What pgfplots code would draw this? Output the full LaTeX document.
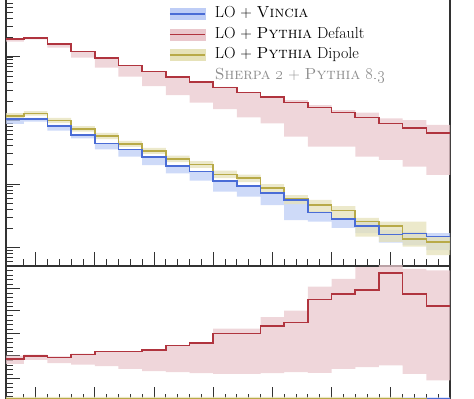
\documentclass[border=0pt]{standalone}
\usepackage{pgfplots}
\pgfplotsset{compat=1.18}
\usepackage{pgfplotstable}
\usepgfplotslibrary{fillbetween}

\definecolor{vinline}{RGB}{74,108,214}
\definecolor{vinband}{RGB}{190,205,246}
\definecolor{defline}{RGB}{176,52,62}
\definecolor{defband}{RGB}{234,200,205}
\definecolor{dipline}{RGB}{184,170,72}
\definecolor{dipband}{RGB}{230,226,185}
\definecolor{axiscol}{RGB}{50,50,50}
\definecolor{sherpagray}{RGB}{140,140,140}

% top panel: x = bin left edge, y = central value, lo/hi = band
\pgfplotstableread{
x y lo hi
20 1920 1741 1970
40 2013 1900 2050
60 1585 1401 1602
80 1212 975 1221
100 954 678 965
120 740 490 748
140 587 349 591
160 479 252 484
180 404 191 411
200 333 151.7 337
220 278 111.5 281
240 232 90.3 239
260 193.5 55.6 210
280 161.4 38.7 175.4
300 132.7 38.7 146.3
320 112.3 26.9 132.7
340 90.3 23.9 108.3
360 77.0 18.7 101.8
380 62.9 13.9 85.0
400 62.9 13.9 85.0
}\redtop

\pgfplotstableread{
x y lo hi
20 105.6 88.1 109.5
40 105.6 95.7 109.5
60 82.8 69.1 85.0
80 59.1 52.4 60.2
100 43.7 35.2 44.2
120 34.7 26.9 34.9
140 26.9 19.9 27.1
160 19.4 14.7 19.6
180 15.85 11.27 16.0
200 11.27 7.56 11.4
220 9.30 6.31 9.47
240 7.22 4.67 7.35
260 5.60 2.71 5.70
280 3.58 2.55 3.69
300 2.81 2.03 2.86
320 2.20 1.69 2.64
340 1.61 1.19 1.89
360 1.67 1.095 1.77
380 1.48 0.913 1.69
400 1.48 0.913 1.69
}\bluetop

\pgfplotstableread{
x y lo hi
20 119.0 109.5 131.2
40 128.0 119.8 141.1
60 99.3 91.3 109.5
80 73.5 67.1 81.9
100 57.0 51.1 63.6
120 42.7 38.3 47.6
140 33.1 29.7 36.9
160 24.8 22.2 28.1
180 20.4 17.9 23.0
200 14.2 12.4 16.3
220 12.4 10.75 14.1
240 8.56 7.22 10.0
260 5.81 4.84 6.71
280 4.67 3.62 5.60
300 3.80 2.92 4.50
320 2.55 1.48 2.92
340 2.20 1.23 2.55
360 1.36 1.03 2.55
380 1.23 0.762 1.46
400 1.23 0.762 1.46
}\yeltop

% ratio panel
\pgfplotstableread{
x y lo hi
20 0.938 0.827 1.011
40 0.996 0.916 1.033
60 0.967 0.840 0.990
80 1.033 0.811 1.050
100 1.100 0.773 1.110
120 1.100 0.716 1.110
140 1.129 0.662 1.140
160 1.233 0.640 1.240
180 1.284 0.618 1.290
200 1.500 0.604 1.611
220 1.500 0.604 1.611
240 1.671 0.618 1.862
260 1.744 0.640 2.011
280 2.256 0.627 2.544
300 2.382 0.716 2.716
320 2.471 0.751 2.973
340 2.849 0.789 3.100
360 2.382 0.604 2.938
380 2.107 0.456 2.900
400 2.107 0.456 2.900
}\redratio

\pgfplotstableread{
x y lo hi
20 0.03 -0.05 0.07
40 0.03 -0.05 0.07
60 0.03 -0.05 0.07
80 0.03 -0.05 0.07
100 0.03 -0.05 0.07
120 0.03 -0.05 0.07
140 0.03 -0.05 0.07
160 0.03 -0.05 0.07
180 0.03 -0.05 0.07
200 0.03 -0.05 0.07
220 0.03 -0.05 0.07
240 0.03 -0.05 0.07
260 0.03 -0.05 0.07
280 0.03 -0.05 0.07
300 0.03 -0.05 0.07
320 0.03 -0.05 0.07
340 0.03 -0.05 0.07
360 0.04 -0.05 0.08
380 0.04 -0.05 0.08
400 0.04 -0.05 0.08
}\blueratio

\pgfplotstableread{
x y lo hi
20 0.04 -0.05 0.09
40 0.04 -0.05 0.09
60 0.04 -0.05 0.09
80 0.04 -0.05 0.09
100 0.04 -0.05 0.09
120 0.04 -0.05 0.09
140 0.04 -0.05 0.09
160 0.04 -0.05 0.09
180 0.04 -0.05 0.09
200 0.04 -0.05 0.09
220 0.04 -0.05 0.09
240 0.04 -0.05 0.09
260 0.04 -0.05 0.09
280 0.04 -0.05 0.09
300 0.04 -0.05 0.09
320 0.04 -0.05 0.09
340 0.04 -0.05 0.09
360 0.04 -0.05 0.06
380 -0.05 -0.06 -0.04
400 -0.05 -0.06 -0.04
}\yelratio

\pgfplotsset{
  histpanel/.style={
    scale only axis,
    width=444pt,
    xmin=25, xmax=400,
    xtick={50,100,...,400},
    minor xtick={40,50,...,400},
    xticklabels={}, yticklabels={},
    xtick pos=left, ytick pos=left,
    tick align=inside,
    major tick length=14pt,
    minor tick length=7pt,
    axis line style={line width=1.2pt, axiscol},
    every tick/.style={line width=1pt, axiscol},
    every minor tick/.style={line width=0.9pt, axiscol},
  },
  band/.style={draw=none, fill=#1, fill opacity=0.75, forget plot},
  edge/.style={const plot, draw=none, forget plot},
  hline/.style={const plot, line width=1.6pt, color=#1, forget plot, mark=none},
}

\begin{document}
\begin{tikzpicture}
% ---------------- top panel ----------------
\begin{axis}[histpanel,
  at={(6pt,133pt)}, anchor=south west,
  height=296pt,
  ymode=log, ymin=0.5114, ymax=23450,
  legend cell align=left,
  legend style={draw=none, fill=none, inner sep=0pt,
    at={(0.3671,0.881)}, anchor=north west,
    font=\fontsize{16}{18}\selectfont,
    nodes={inner sep=1pt, text height=11pt, text depth=4pt},
    row sep=3.6pt,
    /tikz/every odd column/.append style={column sep=8pt}},
]
\addlegendimage{legend image code/.code={\fill[vinband] (0pt,-5.5pt) rectangle (35pt,5.5pt); \draw[vinline, line width=1.6pt] (0pt,0pt) -- (35pt,0pt);}}
\addlegendentry{LO + \textsc{Vincia}}
\addlegendimage{legend image code/.code={\fill[defband] (0pt,-5.5pt) rectangle (35pt,5.5pt); \draw[defline, line width=1.6pt] (0pt,0pt) -- (35pt,0pt);}}
\addlegendentry{LO + \textsc{Pythia} Default}
\addlegendimage{legend image code/.code={\fill[dipband] (0pt,-5.5pt) rectangle (35pt,5.5pt); \draw[dipline, line width=1.6pt] (0pt,0pt) -- (35pt,0pt);}}
\addlegendentry{LO + \textsc{Pythia} Dipole}
\addlegendimage{empty legend}
\addlegendentry{\textcolor{sherpagray}{\textsc{Sherpa} \oldstylenums{2} + \textsc{Pythia} \oldstylenums{8.3}}}

\addplot[edge, name path=rlo] table[x=x, y=lo] {\redtop};
\addplot[edge, name path=rhi] table[x=x, y=hi] {\redtop};
\addplot[band=defband] fill between[of=rlo and rhi];
\addplot[edge, name path=blo] table[x=x, y=lo] {\bluetop};
\addplot[edge, name path=bhi] table[x=x, y=hi] {\bluetop};
\addplot[band=vinband] fill between[of=blo and bhi];
\addplot[edge, name path=ylo] table[x=x, y=lo] {\yeltop};
\addplot[edge, name path=yhi] table[x=x, y=hi] {\yeltop};
\addplot[band=dipband] fill between[of=ylo and yhi];

\addplot[hline=defline] table[x=x, y=y] {\redtop};
\addplot[hline=dipline] table[x=x, y=y] {\yeltop};
\addplot[hline=vinline] table[x=x, y=y] {\bluetop};
\end{axis}

% ---------------- ratio panel ----------------
\begin{axis}[histpanel,
  at={(6pt,-2pt)}, anchor=south west,
  height=135pt,
  ymin=0, ymax=3,
  ytick={0,0.5,...,3},
  minor y tick num=4,
]
\addplot[edge, name path=rrlo] table[x=x, y=lo] {\redratio};
\addplot[edge, name path=rrhi] table[x=x, y=hi] {\redratio};
\addplot[band=defband] fill between[of=rrlo and rrhi];
\addplot[edge, name path=brlo] table[x=x, y=lo] {\blueratio};
\addplot[edge, name path=brhi] table[x=x, y=hi] {\blueratio};
\addplot[band=vinband] fill between[of=brlo and brhi];
\addplot[edge, name path=yrlo] table[x=x, y=lo] {\yelratio};
\addplot[edge, name path=yrhi] table[x=x, y=hi] {\yelratio};
\addplot[band=dipband] fill between[of=yrlo and yrhi];
\addplot[hline=vinline] table[x=x, y=y] {\blueratio};
\addplot[hline=dipline] table[x=x, y=y] {\yelratio};
\addplot[hline=defline] table[x=x, y=y] {\redratio};
\end{axis}
\pgfresetboundingbox
\path[use as bounding box] (0pt,0pt) rectangle (474pt,399pt);
\end{tikzpicture}
\end{document}
